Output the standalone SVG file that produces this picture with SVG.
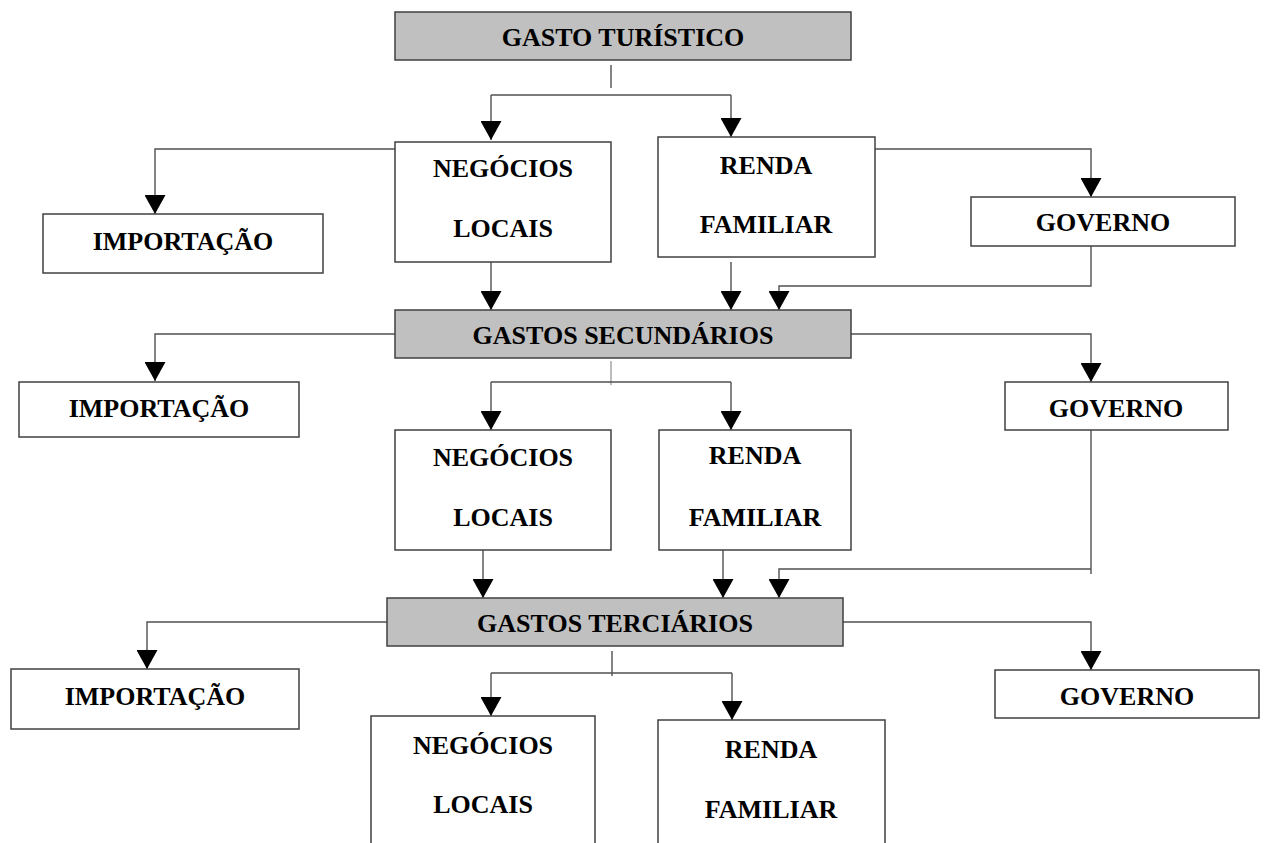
<svg xmlns="http://www.w3.org/2000/svg" width="1271" height="843" viewBox="0 0 1271 843">
<style>
.box{fill:#fff;stroke:#404040;stroke-width:1.5}
.main{fill:#c0c0c0;stroke:#404040;stroke-width:1.5}
.t{font-family:"Liberation Serif","Times New Roman",serif;font-weight:bold;font-size:26px;fill:#000;text-anchor:middle}
.c{fill:none;stroke:#505050;stroke-width:1.4}
.a{marker-end:url(#arr)}
.stub{fill:none;stroke:#a0a0a0;stroke-width:1.4}
</style>
<defs>
<marker id="arr" markerUnits="userSpaceOnUse" markerWidth="20" markerHeight="21" refX="19" refY="10.5" orient="auto" viewBox="0 0 20 21">
<path d="M0,0 L19,10.5 L0,21 z" fill="#000"/>
</marker>
</defs>
<rect width="1271" height="843" fill="#fff"/>
<g id="connectors">
<path class="c" d="M611,65 V88"/>
<path class="c" d="M491,95 H731"/>
<path class="c a" d="M491,95 V140"/>
<path class="c a" d="M731,95 V137"/>
<path class="c a" d="M395,149 H155 V214"/>
<path class="c a" d="M875,149 H1091 V197"/>
<path class="c a" d="M491,262 V310"/>
<path class="c a" d="M731,262 V310"/>
<path class="c a" d="M1091,246 V286 H779 V310"/>
<path class="c a" d="M395,334 H155 V381"/>
<path class="c a" d="M851,334 H1091 V382"/>
<path class="stub" d="M611,361 V385"/>
<path class="c" d="M491,382 H731"/>
<path class="c a" d="M491,382 V430"/>
<path class="c a" d="M731,382 V430"/>
<path class="c a" d="M483,550 V598"/>
<path class="c a" d="M723,550 V598"/>
<path class="c" d="M1091,430 V574"/>
<path class="c a" d="M1091,569 H779 V598"/>
<path class="c a" d="M387,622 H147 V669"/>
<path class="c a" d="M843,622 H1091 V670"/>
<path class="c" d="M612,651 V676"/>
<path class="c" d="M491,673 H732"/>
<path class="c a" d="M491,673 V716"/>
<path class="c a" d="M732,673 V720"/>
</g>
<g id="gasto-turistico"><rect class="main" x="395" y="12" width="456" height="48"/><text class="t" x="623" y="46">GASTO TURÍSTICO</text></g>
<g id="importacao-1"><rect class="box" x="43" y="214" width="280" height="59"/><text class="t" x="183" y="250">IMPORTAÇÃO</text></g>
<g id="negocios-1"><rect class="box" x="395" y="142" width="216" height="120"/><text class="t" x="503" y="177">NEGÓCIOS</text><text class="t" x="503" y="237">LOCAIS</text></g>
<g id="renda-1"><rect class="box" x="658" y="137" width="217" height="120"/><text class="t" x="766" y="174">RENDA</text><text class="t" x="766" y="233">FAMILIAR</text></g>
<g id="governo-1"><rect class="box" x="971" y="197" width="264" height="49"/><text class="t" x="1103" y="231">GOVERNO</text></g>
<g id="gastos-secundarios"><rect class="main" x="395" y="310" width="456" height="48"/><text class="t" x="623" y="344">GASTOS SECUNDÁRIOS</text></g>
<g id="importacao-2"><rect class="box" x="19" y="382" width="280" height="55"/><text class="t" x="159" y="417">IMPORTAÇÃO</text></g>
<g id="negocios-2"><rect class="box" x="395" y="430" width="216" height="120"/><text class="t" x="503" y="466">NEGÓCIOS</text><text class="t" x="503" y="526">LOCAIS</text></g>
<g id="renda-2"><rect class="box" x="659" y="430" width="192" height="120"/><text class="t" x="755" y="464">RENDA</text><text class="t" x="755" y="526">FAMILIAR</text></g>
<g id="governo-2"><rect class="box" x="1005" y="382" width="223" height="48"/><text class="t" x="1116" y="417">GOVERNO</text></g>
<g id="gastos-terciarios"><rect class="main" x="387" y="598" width="456" height="48"/><text class="t" x="615" y="632">GASTOS TERCIÁRIOS</text></g>
<g id="importacao-3"><rect class="box" x="11" y="669" width="288" height="60"/><text class="t" x="155" y="705">IMPORTAÇÃO</text></g>
<g id="governo-3"><rect class="box" x="995" y="670" width="264" height="48"/><text class="t" x="1127" y="705">GOVERNO</text></g>
<g id="negocios-3"><rect class="box" x="371" y="716" width="224" height="140"/><text class="t" x="483" y="754">NEGÓCIOS</text><text class="t" x="483" y="813">LOCAIS</text></g>
<g id="renda-3"><rect class="box" x="658" y="720" width="227" height="140"/><text class="t" x="771" y="758">RENDA</text><text class="t" x="771" y="818">FAMILIAR</text></g>
</svg>
